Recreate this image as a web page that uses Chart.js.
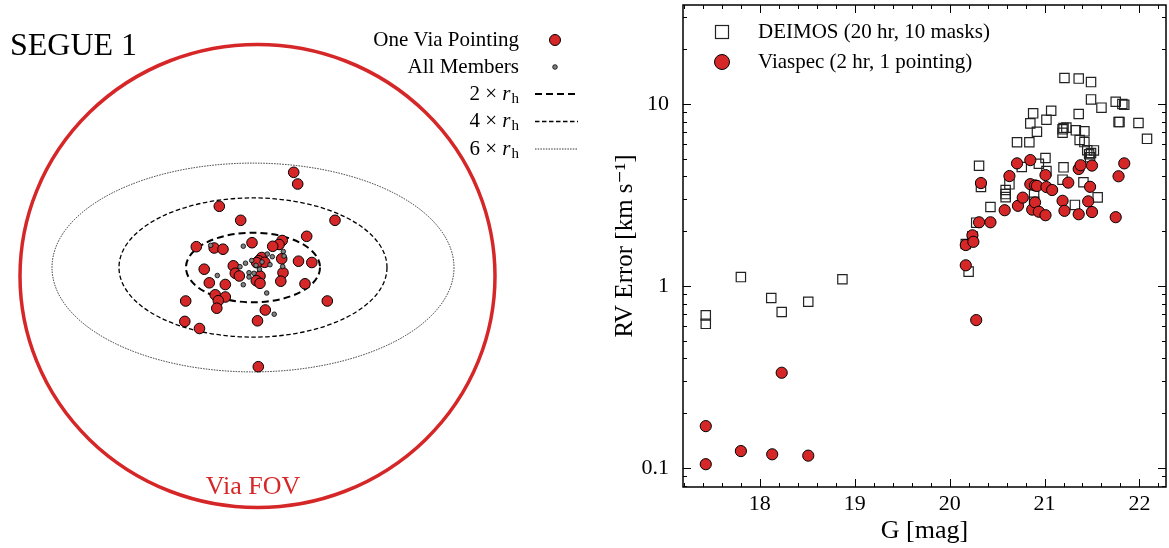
<!DOCTYPE html>
<html>
<head>
<meta charset="utf-8">
<script src="https://cdn.jsdelivr.net/npm/chart.js@4.4.1/dist/chart.umd.min.js"></script>
<style>
  body { margin: 0; background: #fff; width: 1169px; height: 548px; overflow: hidden; }
  #mapa { position: absolute; left: 0; top: 0; }
  #errores { position: absolute; left: 590px; top: 0; }
</style>
</head>
<body>
<canvas id="mapa" width="590" height="548"></canvas>
<canvas id="errores" width="579" height="548"></canvas>
<script>
// ---- panel izquierdo: posiciones en el cielo (unidades arbitrarias) ----
const viaX = [3.77, 4.17, -3.67, -1.53, 7.9, 5.07, -5.97, -4.18, -3.3, -0.4, 2.62, 2.3, 1.67, 0.57, 0.27, 0.87, 0.07,
  -2.27, 2.57, 4.25, 5.58, -5.18, -2.07, -1.67, 0.4, 2.7, 0.03, 0.4, 2.48, 4.9, -4.67, -3.07, -4.08, -3.07, -3.77,
  -3.92, -7.03, 7.13, 0.93, 0.15, -7.12, -5.65, 0.23];
const viaY = [10.37, 9.2, 6.97, 5.57, 5.57, 3.97, 2.93, 2.8, 2.68, 3.33, 3.55, 3.15, 2.97, 1.85, 1.52, 1.37, 1.33,
  1.02, 1.72, 1.48, 1.35, 0.68, 0.27, 0, 0, 0.33, -0.47, -0.73, -0.52, -0.78, -0.68, -0.85, -1.88, -2.1, -2.47,
  -3.22, -2.5, -2.5, -3.4, -4.48, -4.54, -5.25, -9.07];
const miembrosX = [-4.53, -1.27, 2.73, 1.63, 1.13, -0.43, -1.05, -1.6, 0, 1.4, 2.67, 0.35, -0.2, -0.7, -0.7, -3.87,
  -1.27, 1.07, 1.82, 2.8, 0.6];
const miembrosY = [3.07, 2.98, 2.45, 1.93, 2.2, 1.55, 1.28, 0.93, 1.07, 1.13, 0.95, 0.67, 0.27, 0.33, -0.1, 0.05,
  -0.87, -1.7, -3.82, 2.0, 1.4];
const centroSegue = [-0.3, 0.85];
const radioMedio = [3.35, 1.74];      // semiejes de r_h
const multiplosRh = [2, 4, 6];
const centroFov = [0.15, 0];
const radioFov = [23.75, 23.15];

// ---- panel derecho: error de velocidad radial ----
const deimosG = [17.43, 17.43, 17.80, 18.12, 18.23, 18.51, 18.87, 20.17, 20.20, 20.24, 20.28, 20.31, 20.33, 20.43,
  20.59, 20.59, 20.59, 20.63, 20.71, 20.76, 20.84, 20.85, 20.88, 20.89, 20.89, 20.92, 20.94, 21.01, 21.02, 21.02,
  21.07, 21.19, 21.19, 21.19, 21.20, 21.20, 21.21, 21.23, 21.32, 21.33, 21.36, 21.36, 21.37, 21.41, 21.42, 21.42,
  21.45, 21.47, 21.48, 21.49, 21.49, 21.49, 21.52, 21.56, 21.60, 21.75, 21.78, 21.79, 21.82, 21.84, 21.99, 22.08];
const deimosErr = [0.69, 0.62, 1.12, 0.86, 0.72, 0.82, 1.09, 1.70, 1.20, 1.88, 2.23, 4.58, 3.50, 2.72,
  3.37, 3.20, 3.08, 3.62, 6.17, 4.51, 6.17, 7.83, 8.89, 3.18, 2.90, 7.04, 4.70, 5.05, 8.20, 4.28,
  9.19, 7.26, 6.95, 3.84, 7.38, 4.49, 13.9, 7.42, 2.79, 7.17, 13.8, 8.81, 6.34, 3.72, 7.08, 6.18,
  5.58, 5.30, 5.10, 13.2, 10.6, 5.38, 5.56, 3.07, 9.55, 10.3, 7.96, 7.96, 10.0, 9.9, 7.87, 6.44];
const viaspecG = [17.43, 17.43, 17.80, 18.13, 18.23, 18.51, 20.17, 20.17, 20.24, 20.25, 20.28, 20.31, 20.33, 20.43,
  20.58, 20.63, 20.71, 20.72, 20.77, 20.85, 20.85, 20.87, 20.90, 20.92, 20.90, 20.94, 21.01, 21.01, 21.02, 21.08,
  21.19, 21.21, 21.25, 21.36, 21.36, 21.38, 21.46, 21.48, 21.50, 21.50, 21.75, 21.78, 21.84];
const viaspecErr = [0.170, 0.105, 0.124, 0.119, 0.334, 0.117, 1.30, 1.68, 1.90, 1.75, 0.65, 2.24, 3.68, 2.24,
  2.61, 4.02, 4.72, 2.76, 3.06, 4.92, 3.63, 2.63, 3.57, 3.55, 2.88, 2.56, 4.07, 2.45, 3.50, 3.37,
  2.94, 2.59, 3.70, 4.40, 2.48, 4.61, 2.92, 3.51, 4.59, 2.55, 2.39, 4.01, 4.72];
const xMayores = [18, 19, 20, 21, 22];
const yMayores = [0.1, 1, 10];
const yEtiquetas = ['0.1', '1', '10'];

const rojo = '#d62728';
const serif = "'Liberation Serif', 'DejaVu Serif', serif";
const pares = (xs, ys) => xs.map((x, i) => ({ x: x, y: ys[i] }));
const estilosRh = [[2, [7, 4]], [1.3, [4.5, 2.5]], [0.8, [1.5, 1.2]]];

// elipses y circulo del campo de vision
const pluginFormas = {
  id: 'formas',
  beforeDatasetsDraw(chart) {
    const { ctx, scales: { x, y } } = chart;
    const ppx = x.getPixelForValue(1) - x.getPixelForValue(0);
    const ppy = y.getPixelForValue(0) - y.getPixelForValue(1);
    ctx.save();
    ctx.strokeStyle = rojo;
    ctx.lineWidth = 3.5;
    ctx.beginPath();
    ctx.ellipse(x.getPixelForValue(centroFov[0]), y.getPixelForValue(centroFov[1]),
      radioFov[0] * ppx, radioFov[1] * ppy, 0, 0, Math.PI * 2);
    ctx.stroke();
    multiplosRh.forEach((m, i) => {
      ctx.strokeStyle = '#000';
      ctx.lineWidth = estilosRh[i][0];
      ctx.setLineDash(estilosRh[i][1]);
      ctx.beginPath();
      ctx.ellipse(x.getPixelForValue(centroSegue[0]), y.getPixelForValue(centroSegue[1]),
        m * radioMedio[0] * ppx, m * radioMedio[1] * ppy, 0, 0, Math.PI * 2);
      ctx.stroke();
    });
    ctx.restore();
  },
  afterDraw(chart) {
    const ctx = chart.ctx;
    ctx.save();
    ctx.fillStyle = '#000';
    ctx.textBaseline = 'alphabetic';
    ctx.font = '32px ' + serif;
    ctx.fillText('SEGUE 1', 10, 55);
    ctx.fillStyle = rojo;
    ctx.font = '26px ' + serif;
    ctx.textAlign = 'center';
    ctx.fillText('Via FOV', 253, 494);
    // leyenda
    ctx.fillStyle = '#000';
    ctx.textAlign = 'right';
    ctx.textBaseline = 'middle';
    ctx.font = '21px ' + serif;
    ctx.fillText('One Via Pointing', 519, 40);
    ctx.fillText('All Members', 519, 67);
    ctx.beginPath();
    ctx.arc(555, 40, 5.5, 0, Math.PI * 2);
    ctx.fillStyle = rojo; ctx.fill();
    ctx.lineWidth = 1; ctx.strokeStyle = '#000'; ctx.stroke();
    ctx.beginPath();
    ctx.arc(555, 67, 2.3, 0, Math.PI * 2);
    ctx.fillStyle = '#808080'; ctx.fill();
    ctx.lineWidth = 0.8; ctx.stroke();
    multiplosRh.forEach((m, i) => {
      const yy = 94 + i * 27.5;
      ctx.fillStyle = '#000';
      ctx.textAlign = 'left';
      ctx.font = '15px ' + serif;
      const wh = ctx.measureText('h').width;
      ctx.font = 'italic 21px ' + serif;
      const wr = ctx.measureText('r').width;
      ctx.font = '21px ' + serif;
      const t = m + ' \u00d7 ';
      const wt = ctx.measureText(t).width;
      let x0 = 519 - wh - wr - wt - 1;
      ctx.fillText(t, x0, yy);
      ctx.font = 'italic 21px ' + serif;
      ctx.fillText('r', x0 + wt, yy);
      ctx.font = '15px ' + serif;
      ctx.fillText('h', x0 + wt + wr + 1, yy + 5);
      ctx.lineWidth = estilosRh[i][0];
      ctx.setLineDash(estilosRh[i][1]);
      ctx.beginPath();
      ctx.moveTo(535, yy); ctx.lineTo(578, yy);
      ctx.stroke();
      ctx.setLineDash([]);
    });
    ctx.restore();
  }
};

new Chart(document.getElementById('mapa'), {
  type: 'scatter',
  data: {
    datasets: [
      { label: 'All Members', data: pares(miembrosX, miembrosY), pointRadius: 2.3, backgroundColor: '#808080',
        borderColor: '#000', borderWidth: 0.8 },
      { label: 'One Via Pointing', data: pares(viaX, viaY), pointRadius: 5.3, backgroundColor: rojo,
        borderColor: '#000', borderWidth: 1 }
    ]
  },
  options: {
    responsive: false, animation: false, devicePixelRatio: 1,
    layout: { padding: 0, autoPadding: false },
    plugins: { legend: { display: false }, tooltip: { enabled: false } },
    scales: {
      x: { type: 'linear', display: false, min: -25.6, max: 33.4 },
      y: { type: 'linear', display: false, min: -27.2, max: 27.6 }
    }
  },
  plugins: [pluginFormas]
});

// marco y marcas hacia dentro estilo matplotlib
const pluginMarco = {
  id: 'marco',
  afterDraw(chart) {
    const { ctx, chartArea: a, scales: { x, y } } = chart;
    ctx.save();
    ctx.strokeStyle = '#000';
    ctx.lineWidth = 1.5;
    ctx.strokeRect(a.left, a.top, a.right - a.left, a.bottom - a.top);
    ctx.lineWidth = 1;
    ctx.beginPath();
    for (let v = 17.2; v <= 22.3; v += 0.2) {
      const px = Math.round(x.getPixelForValue(v)) + 0.5;
      const largo = Math.abs(v - Math.round(v)) < 0.01 ? 8 : 4;
      ctx.moveTo(px, a.bottom); ctx.lineTo(px, a.bottom - largo);
      ctx.moveTo(px, a.top); ctx.lineTo(px, a.top + largo);
    }
    [0.01, 0.1, 1, 10].forEach(dec => {
      for (let k = 1; k <= 9; k++) {
        const v = dec * k;
        if (v < y.min || v > y.max) continue;
        const py = Math.round(y.getPixelForValue(v)) + 0.5;
        const largo = k === 1 ? 8 : 4;
        ctx.moveTo(a.left, py); ctx.lineTo(a.left + largo, py);
        ctx.moveTo(a.right, py); ctx.lineTo(a.right - largo, py);
      }
    });
    ctx.stroke();
    // leyenda
    ctx.lineWidth = 1.2;
    ctx.strokeStyle = '#222';
    ctx.strokeRect(715.5 - 590, 25.5, 13, 13);
    ctx.beginPath();
    ctx.arc(722 - 590, 62, 7.5, 0, Math.PI * 2);
    ctx.fillStyle = rojo; ctx.fill();
    ctx.strokeStyle = '#000'; ctx.lineWidth = 1; ctx.stroke();
    ctx.fillStyle = '#000';
    ctx.font = '21px ' + serif;
    ctx.textBaseline = 'middle';
    ctx.fillText('DEIMOS (20 hr, 10 masks)', 758 - 590, 32);
    ctx.fillText('Viaspec (2 hr, 1 pointing)', 758 - 590, 62);
    ctx.restore();
  }
};

new Chart(document.getElementById('errores'), {
  type: 'scatter',
  data: {
    datasets: [
      { label: 'Viaspec (2 hr, 1 pointing)', data: pares(viaspecG, viaspecErr), pointRadius: 5.6,
        backgroundColor: rojo, borderColor: '#000', borderWidth: 1, order: 1 },
      { label: 'DEIMOS (20 hr, 10 masks)', data: pares(deimosG, deimosErr), pointStyle: 'rect', pointRadius: 6.6,
        backgroundColor: 'rgba(0,0,0,0)', borderColor: '#222', borderWidth: 1.2, order: 2 }
    ]
  },
  options: {
    responsive: false, animation: false, devicePixelRatio: 1,
    layout: { padding: { top: 5, right: 3, left: 0, bottom: 0 }, autoPadding: false },
    plugins: { legend: { display: false }, tooltip: { enabled: false } },
    scales: {
      x: {
        type: 'linear', min: 17.19, max: 22.28,
        afterBuildTicks: s => { s.ticks = xMayores.map(v => ({ value: v })); },
        afterFit: s => { s.height = 61; s.paddingLeft = 0; s.paddingRight = 0; },
        grid: { display: false }, border: { display: false },
        ticks: { color: '#000', padding: -4, font: { family: serif, size: 22 }, callback: v => String(v) },
        title: { display: true, text: 'G [mag]', color: '#000', font: { family: serif, size: 26 }, padding: { bottom: 1 } }
      },
      y: {
        type: 'logarithmic', min: 0.0787, max: 35,
        afterBuildTicks: s => { s.ticks = yMayores.map(v => ({ value: v })); },
        afterFit: s => { s.width = 93; s.paddingTop = 0; s.paddingBottom = 0; },
        grid: { display: false }, border: { display: false },
        ticks: { color: '#000', padding: 6, font: { family: serif, size: 22 },
          callback: v => yEtiquetas[yMayores.indexOf(v)] },
        title: { display: true, text: 'RV Error [km s\u207b\u00b9]', color: '#000',
          font: { family: serif, size: 25 }, padding: { top: 20 } }
      }
    }
  },
  plugins: [pluginMarco]
});
</script>
</body>
</html>
